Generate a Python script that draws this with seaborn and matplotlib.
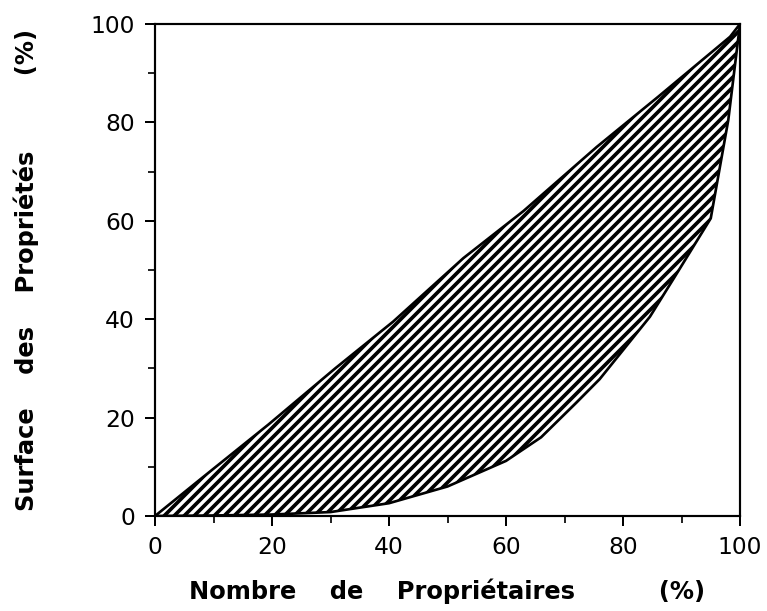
import matplotlib
matplotlib.use("Agg")
import matplotlib.pyplot as plt
import seaborn as sns
import numpy as np
import pandas as pd

# Upper curve (near equality line)
upper_x = [0, 8, 19.4, 30.8, 40.7, 52.7, 63, 75.5, 86, 98.3, 100]
upper_y = [0, 7.7, 18.6, 30, 39.5, 52.4, 62, 75, 85.2, 97.4, 100]
# Lower curve (Lorenz curve)
lower_x = [0, 10, 20, 30, 40, 50, 60, 66, 72, 76, 84.6, 89.2, 95, 98, 100]
lower_y = [0, 0.1, 0.3, 0.8, 2.6, 6, 11.2, 16, 23, 27.8, 40.5, 49.3, 60.5, 80.5, 100]

x_ticks = [0, 20, 40, 60, 80, 100]
y_ticks = [0, 20, 40, 60, 80, 100]
x_label = "Nombre    de    Propriétaires          (%)"
y_label = "Surface    des    Propriétés         (%)"

sns.set_theme(style="ticks")
plt.rcParams['font.family'] = ['DejaVu Sans']
plt.rcParams['hatch.linewidth'] = 2.2
plt.rcParams['hatch.color'] = 'black'

DPI = 120
fig = plt.figure(figsize=(767 / DPI, 611 / DPI), dpi=DPI)
ax = fig.add_axes([155 / 767, 1 - 516 / 611, (740 - 155) / 767, (516 - 24) / 611])

up = pd.DataFrame({"x": upper_x, "y": upper_y})
lo = pd.DataFrame({"x": lower_x, "y": lower_y})

poly_x = list(upper_x) + list(lower_x[::-1])
poly_y = list(upper_y) + list(lower_y[::-1])
ax.fill(poly_x, poly_y, facecolor="white", edgecolor="black", hatch="////", linewidth=0)

sns.lineplot(data=up, x="x", y="y", ax=ax, color="black", linewidth=1.6, sort=False)
sns.lineplot(data=lo, x="x", y="y", ax=ax, color="black", linewidth=1.6, sort=False)

ax.set_xlim(0, 100)
ax.set_ylim(0, 100)
ax.set_xticks(x_ticks)
ax.set_yticks(y_ticks)
ax.set_xticks(np.arange(10, 100, 20), minor=True)
ax.set_yticks(np.arange(10, 100, 20), minor=True)
ax.tick_params(axis="both", which="major", length=6, width=1.2, direction="out",
               labelsize=14, colors="black", pad=6)
ax.tick_params(axis="both", which="minor", length=4, width=1.2, direction="out")

for s in ax.spines.values():
    s.set_visible(True)
    s.set_linewidth(1.3)
    s.set_color("black")

ax.set_xlabel(x_label, fontsize=14.5, fontweight="bold", labelpad=12, color="black")
ax.set_ylabel(y_label, fontsize=14.5, fontweight="bold", labelpad=31, color="black")

fig.savefig("out.png", dpi=DPI, facecolor="white")
